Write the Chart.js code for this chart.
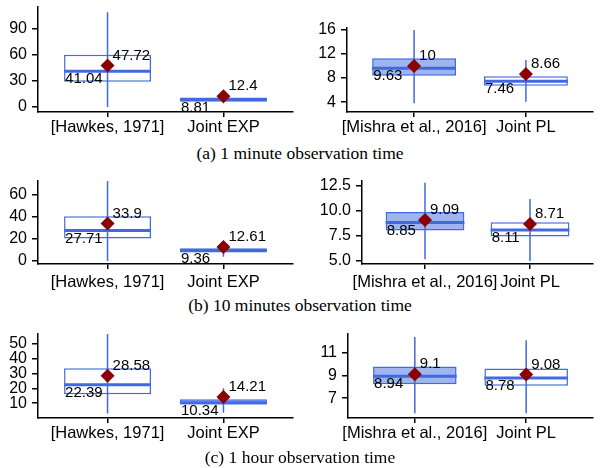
<!DOCTYPE html>
<html>
<head>
<meta charset="utf-8">
<script src="https://cdn.jsdelivr.net/npm/chart.js@4"></script>
<style>
  body { margin: 0; background: #fff; }
  #wrap { position: relative; width: 600px; height: 468px; overflow: hidden; }
  #wrap canvas { position: absolute; }
  .cap { position: absolute; left: 0; width: 600px; text-align: center;
         font-family: "Liberation Serif", "Times New Roman", serif;
         font-size: 17.5px; line-height: 20px; color: #000; }
</style>
</head>
<body>
<div id="wrap"></div>
<script>
// group names and captions
const leftGroups = ['[Hawkes, 1971]', 'Joint EXP'];
const rightGroups = ['[Mishra et al., 2016]', 'Joint PL'];
const captions = ['(a) 1 minute observation time', '(b) 10 minutes observation time', '(c) 1 hour observation time'];

// (a) 1 minute - left
const aLeftLow = [0, 4.5];
const aLeftQ1 = [29, 6.2];
const aLeftMedian = [41.04, 8.81];
const aLeftQ3 = [60, 10.9];
const aLeftHigh = [109, 12];
const aLeftMean = [47.72, 12.4];
const aLeftTicks = [0, 30, 60, 90];
// (a) 1 minute - right
const aRightLow = [3.8, 4.05];
const aRightQ1 = [8.4, 6.74];
const aRightMedian = [9.63, 7.46];
const aRightQ3 = [11.3, 8.32];
const aRightHigh = [16, 11];
const aRightMean = [10, 8.66];
const aRightTicks = [4, 8, 12, 16];

// (b) 10 minutes - left
const bLeftLow = [0, 3.85];
const bLeftQ1 = [20.3, 9.0];
const bLeftMedian = [27.71, 9.36];
const bLeftQ3 = [40.6, 11.6];
const bLeftHigh = [72.5, 13];
const bLeftMean = [33.9, 12.61];
const bLeftTicks = [0, 20, 40, 60];
// (b) 10 minutes - right
const bRightLow = [5.17, 5.0];
const bRightQ1 = [8.06, 7.44];
const bRightMedian = [8.85, 8.11];
const bRightQ3 = [9.9, 8.88];
const bRightHigh = [12.83, 11.19];
const bRightMean = [9.09, 8.71];
const bRightTicks = [5, 7.5, 10, 12.5];

// (c) 1 hour - left
const cLeftLow = [3.1, 3.5];
const cLeftQ1 = [16, 9.1];
const cLeftMedian = [22.39, 10.34];
const cLeftQ3 = [33.5, 12.7];
const cLeftHigh = [56.7, 20];
const cLeftMean = [28.58, 14.21];
const cLeftTicks = [10, 20, 30, 40, 50];
// (c) 1 hour - right
const cRightLow = [5.67, 5.67];
const cRightQ1 = [8.22, 8.1];
const cRightMedian = [8.94, 8.78];
const cRightQ3 = [9.78, 9.61];
const cRightHigh = [12.39, 12.1];
const cRightMean = [9.1, 9.08];
const cRightTicks = [7, 9, 11];

const BLUE = 'rgb(65,105,225)';
const FILL = 'rgba(65,105,225,0.5)';
const RED = '#8b0000';
const BOX_W = 0.75;
const FONT = '"Liberation Sans", Arial, Helvetica, sans-serif';

Chart.defaults.font.family = FONT;
Chart.defaults.font.size = 15;
Chart.defaults.color = '#000';

const wrap = document.getElementById('wrap');

function makePanel(p) {
  const canvas = document.createElement('canvas');
  canvas.width = p.w;
  canvas.height = p.h;
  canvas.style.left = p.left + 'px';
  canvas.style.top = p.top + 'px';
  wrap.appendChild(canvas);

  const xs = p.groups.map((g, i) => i + 1);
  const whiskers = [];
  const medians = [];
  xs.forEach((x, i) => {
    whiskers.push({x: x, y: p.low[i]}, {x: x, y: p.high[i]}, {x: x + 0.5, y: null});
    medians.push({x: x - BOX_W / 2, y: p.median[i]}, {x: x + BOX_W / 2, y: p.median[i]}, {x: x + 0.5, y: null});
  });

  const axisLine = { display: true, color: '#000', width: 1.5 };

  new Chart(canvas, {
    data: {
      datasets: [
        { type: 'bar', data: xs.map((x, i) => ({x: x, y: [p.q1[i], p.q3[i]]})),
          backgroundColor: p.fills, borderColor: BLUE, borderWidth: 1.5, borderSkipped: false,
          categoryPercentage: 1, barPercentage: BOX_W, order: 3 },
        { type: 'line', data: whiskers, borderColor: BLUE, borderWidth: 1.5,
          pointRadius: 0, spanGaps: false, order: 2 },
        { type: 'line', data: medians, borderColor: BLUE, borderWidth: 3,
          pointRadius: 0, spanGaps: false, order: 1 },
        { type: 'scatter', data: xs.map((x, i) => ({x: x, y: p.mean[i]})),
          pointStyle: 'rectRot', pointRadius: 7, backgroundColor: RED, borderColor: RED,
          borderWidth: 0, order: 0 }
      ]
    },
    options: {
      responsive: false,
      animation: false,
      layout: { padding: { top: 6, right: p.padRight, bottom: 0, left: 0 } },
      plugins: { legend: { display: false }, tooltip: { enabled: false } },
      scales: {
        x: {
          type: 'linear', min: 0.4, max: 2.6, offset: false,
          afterBuildTicks: s => { s.ticks = xs.map(v => ({value: v})); },
          afterFit: s => { s.height = 30; s.paddingLeft = 0; s.paddingRight = 0; },
          ticks: { callback: v => p.groups[v - 1], padding: p.xPad, maxRotation: 0, autoSkip: false,
                   font: { size: 16.5 } },
          grid: { drawOnChartArea: false, drawTicks: true, tickLength: 5, color: '#000', lineWidth: 1.5, offset: false },
          border: axisLine
        },
        y: {
          type: 'linear', min: p.min, max: p.max,
          afterBuildTicks: s => { s.ticks = p.ticks.map(v => ({value: v})); },
          afterFit: s => { s.width = p.yw; s.paddingTop = 0; s.paddingBottom = 0; },
          ticks: { callback: v => v.toFixed(p.digits), padding: 5, autoSkip: false, font: { size: 16 } },
          grid: { drawOnChartArea: false, drawTicks: true, tickLength: 6, color: '#000', lineWidth: 1.5 },
          border: axisLine
        }
      }
    },
    plugins: [{
      id: 'valueLabels',
      afterDatasetsDraw(chart) {
        const ctx = chart.ctx;
        const x = chart.scales.x, y = chart.scales.y;
        ctx.save();
        ctx.font = '15px ' + FONT;
        ctx.fillStyle = '#000';
        ctx.textAlign = 'left';
        ctx.textBaseline = 'middle';
        xs.forEach((v, i) => {
          ctx.fillText(String(p.median[i]), x.getPixelForValue(v - BOX_W / 2) + 1, y.getPixelForValue(p.median[i]) + 8);
          ctx.fillText(String(p.mean[i]), x.getPixelForValue(v) + 5, y.getPixelForValue(p.mean[i]) - 10);
        });
        ctx.restore();
      }
    }]
  });
}

const leftFills = ['#ffffff', FILL];
const rightFills = [FILL, '#ffffff'];

// row (a)
makePanel({ left: 0, top: 0, w: 300, h: 142, yw: 38, padRight: 7, xPad: 1, groups: leftGroups, fills: leftFills,
  min: -5.7, max: 115, ticks: aLeftTicks, digits: 0,
  low: aLeftLow, q1: aLeftQ1, median: aLeftMedian, q3: aLeftQ3, high: aLeftHigh, mean: aLeftMean });
makePanel({ left: 300, top: 21, w: 300, h: 121, yw: 47, padRight: 0, xPad: 1, groups: rightGroups, fills: rightFills,
  min: 2.36, max: 16.33, ticks: aRightTicks, digits: 0,
  low: aRightLow, q1: aRightQ1, median: aRightMedian, q3: aRightQ3, high: aRightHigh, mean: aRightMean });
// row (b)
makePanel({ left: 0, top: 174, w: 300, h: 120, yw: 38, padRight: 7, xPad: 4, groups: leftGroups, fills: leftFills,
  min: -2.7, max: 72.5, ticks: bLeftTicks, digits: 0,
  low: bLeftLow, q1: bLeftQ1, median: bLeftMedian, q3: bLeftQ3, high: bLeftHigh, mean: bLeftMean });
makePanel({ left: 300, top: 174, w: 300, h: 120, yw: 62, padRight: 0, xPad: 4, groups: rightGroups, fills: rightFills,
  min: 4.7, max: 13.0, ticks: bRightTicks, digits: 1,
  low: bRightLow, q1: bRightQ1, median: bRightMedian, q3: bRightQ3, high: bRightHigh, mean: bRightMean });
// row (c)
makePanel({ left: 0, top: 327, w: 300, h: 121, yw: 38, padRight: 7, xPad: 1, groups: leftGroups, fills: leftFills,
  min: 0, max: 56.7, ticks: cLeftTicks, digits: 0,
  low: cLeftLow, q1: cLeftQ1, median: cLeftMedian, q3: cLeftQ3, high: cLeftHigh, mean: cLeftMean });
makePanel({ left: 300, top: 327, w: 300, h: 121, yw: 48, padRight: 0, xPad: 1, groups: rightGroups, fills: rightFills,
  min: 5.26, max: 12.65, ticks: cRightTicks, digits: 0,
  low: cRightLow, q1: cRightQ1, median: cRightMedian, q3: cRightQ3, high: cRightHigh, mean: cRightMean });

// captions
const capTops = [143, 295, 447];
captions.forEach((c, i) => {
  const d = document.createElement('div');
  d.className = 'cap';
  d.style.top = capTops[i] + 'px';
  d.textContent = c;
  wrap.appendChild(d);
});
</script>
</body>
</html>
